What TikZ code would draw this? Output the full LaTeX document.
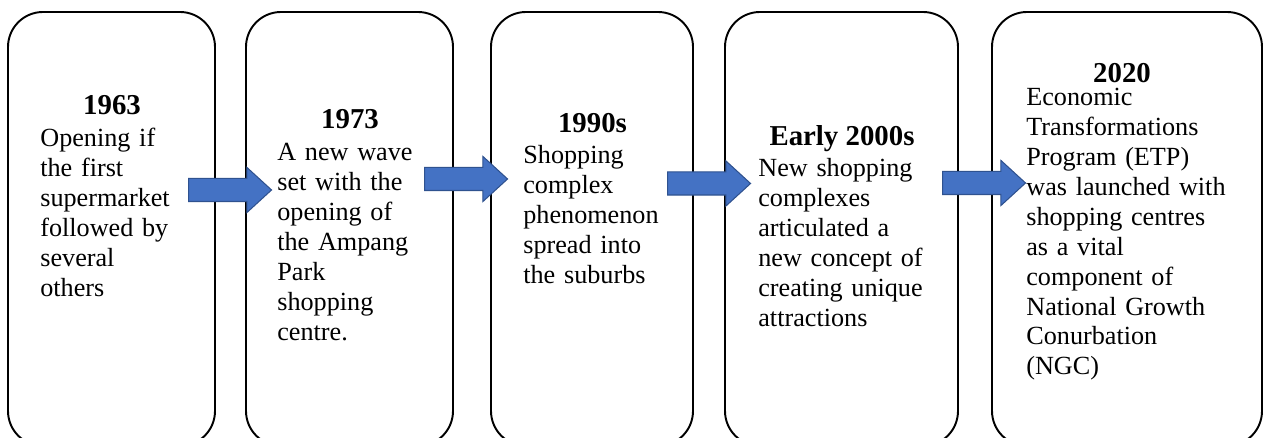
\documentclass[tikz,border=0pt]{standalone}
\usepackage{fontspec}
\setmainfont{Liberation Serif}
\usepackage{tikz}
\usetikzlibrary{shapes.arrows}

\definecolor{arrowfill}{HTML}{4472C4}
\definecolor{arrowline}{HTML}{2F528F}

\tikzset{
  periodbox/.style={rectangle, draw, line width=1.1pt, rounded corners=0.7cm, minimum height=8.68cm, inner sep=0pt},
  nextarrow/.style={single arrow, draw=arrowline, fill=arrowfill, line width=0.6pt, minimum height=1.66cm, inner xsep=0pt, inner ysep=0.22cm, single arrow head extend=0.22cm, single arrow tip angle=85, anchor=tail},
  yeartext/.style={anchor=base, inner sep=0pt, font=\fontsize{16.4}{19}\selectfont\bfseries},
  bodytext/.style={anchor=base west, inner sep=0pt, text width=4.2cm, align=left, font=\fontsize{14.9}{17}\selectfont}
}

\begin{document}
\begin{tikzpicture}
            \useasboundingbox (0,0) rectangle (25.28,8.76);

            % Define boxes
            \node[periodbox, minimum width=4.14cm] (B1) at (2.23,4.18) {};
            \node[periodbox, minimum width=4.14cm] (B2) at (6.99,4.18) {};
            \node[periodbox, minimum width=4.04cm] (B3) at (11.84,4.18) {};
            \node[periodbox, minimum width=4.66cm] (B4) at (16.83,4.18) {};
            \node[periodbox, minimum width=5.40cm] (B5) at (22.54,4.18) {};

            % Years
            \node[yeartext] (Y1) at (2.24,6.46) {1963};
            \node[yeartext] (Y2) at (7.00,6.18) {1973};
            \node[yeartext] (Y3) at (11.85,6.10) {1990s};
            \node[yeartext] (Y4) at (16.84,5.84) {Early 2000s};
            \node[yeartext] (Y5) at (22.44,7.10) {2020};

            % Descriptions
            \node[bodytext] (T1) at (0.80,5.82) {Opening if\\ the first\\ supermarket\\ followed by\\ several\\ others};
            \node[bodytext] (T2) at (5.54,5.54) {A new wave\\ set with the\\ opening of\\ the Ampang\\ Park\\ shopping\\ centre.};
            \node[bodytext] (T3) at (10.46,5.48) {Shopping\\ complex\\ phenomenon\\ spread into\\ the suburbs};
            \node[bodytext] (T4) at (15.16,5.22) {New shopping\\ complexes\\ articulated a\\ new concept of\\ creating unique\\ attractions};
            \node[bodytext] (T5) at (20.52,6.64) {Economic\\ Transformations\\ Program (ETP)\\ was launched with\\ shopping centres\\ as a vital\\ component of\\ National Growth\\ Conurbation\\ (NGC)};

            % Draw arrows between boxes
            \node[nextarrow] (A1) at (3.76,4.96) {};
            \node[nextarrow] (A2) at (8.48,5.18) {};
            \node[nextarrow] (A3) at (13.34,5.09) {};
            \node[nextarrow] (A4) at (18.84,5.10) {};
        \end{tikzpicture}
\end{document}
